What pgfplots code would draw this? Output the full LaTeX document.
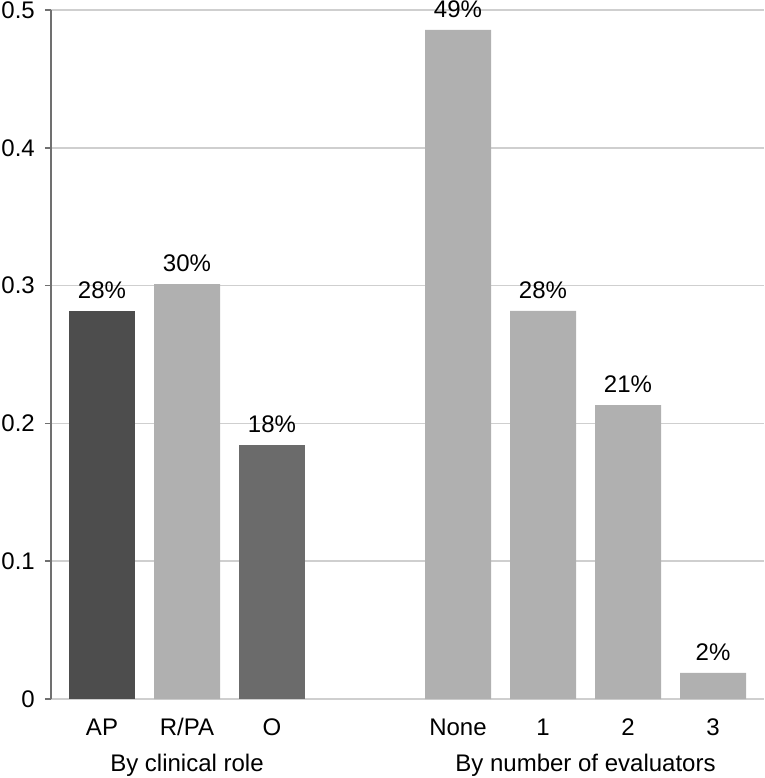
\documentclass[border=0pt]{standalone}
\usepackage{pgfplots}
\pgfplotsset{compat=1.18}
\usepackage{fontspec}
\setmainfont{Liberation Sans}
\definecolor{dk}{HTML}{4D4D4D}
\definecolor{lt}{HTML}{B0B0B0}
\definecolor{md}{HTML}{6B6B6B}
\definecolor{gridc}{HTML}{CFCFCF}
\definecolor{axc}{HTML}{707070}
\begin{document}
\begin{tikzpicture}[font=\fontsize{24}{28}\selectfont]
\begin{axis}[name=a, scale only axis, width=713pt, height=689pt,
  xmin=0, xmax=713, ymin=0, ymax=0.5,
  clip=false,
  axis lines*=left,
  x axis line style={draw=gridc, line width=1.6pt},
  y axis line style={draw=axc, line width=1.6pt},
  ytick={0,0.1,0.2,0.3,0.4,0.5},
  yticklabels={0,0.1,0.2,0.3,0.4,0.5},
  xtick={51,136,221,407,492,577,662},
  xticklabels={AP,R/PA,O,None,1,2,3},
  tick align=outside,
  major tick length=6pt,
  y tick style={draw=axc, line width=1.6pt},
  x tick style={draw=none},
  ymajorgrids,
  grid style={draw=gridc, line width=1.6pt},
  /pgf/number format/assume math mode=true,
  tick label style={font=\fontsize{24}{28}\selectfont},
  yticklabel style={inner sep=0pt, anchor=east, xshift=-10pt},
  xticklabel style={inner sep=0pt, anchor=base, yshift=-30pt},
  point meta=explicit symbolic,
  nodes near coords,
  every node near coord/.append style={font=\fontsize{24}{28}\selectfont, inner sep=0pt, anchor=south, yshift=12pt, text=black},
]
\addplot[ybar, bar shift=0pt, bar width=66, fill=dk, draw=none] coordinates {(51,0.2816)[28\%]};
\addplot[ybar, bar shift=0pt, bar width=66, fill=lt, draw=none] coordinates {(136,0.301)[30\%] (407,0.4855)[49\%] (492,0.2816)[28\%] (577,0.2133)[21\%] (662,0.019)[2\%]};
\addplot[ybar, bar shift=0pt, bar width=66, fill=md, draw=none] coordinates {(221,0.1843)[18\%]};
\node[anchor=base, inner sep=0pt, yshift=-72.7pt] at (axis cs:136,0) {By clinical role};
\node[anchor=base, inner sep=0pt, yshift=-72.7pt] at (axis cs:534.5,0) {By number of evaluators};
\end{axis}
\pgfresetboundingbox
\useasboundingbox ([xshift=-51pt,yshift=-79pt]a.south west) rectangle ([yshift=10pt]a.north east);
\end{tikzpicture}
\end{document}
